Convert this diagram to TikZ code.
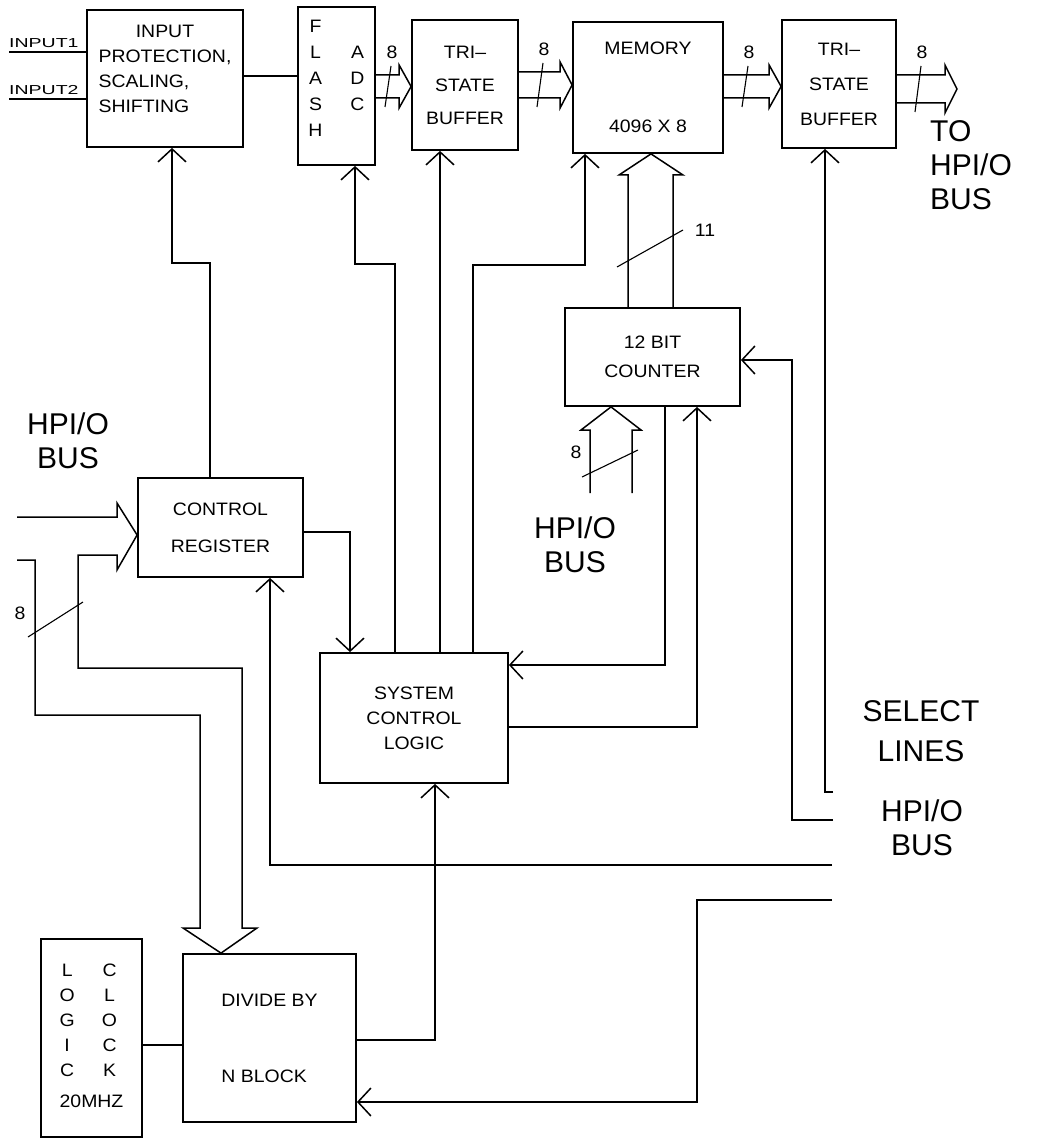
\documentclass[tikz,border=0pt]{standalone}
\usepackage{fontspec}
\setmainfont{Liberation Sans}
\newfontfamily\boxfont[FakeStretch=1.08]{Liberation Sans}
\newfontfamily\tagfont[FakeStretch=1.5]{Liberation Sans}
\usetikzlibrary{arrows.meta,calc}

\tikzset{
  blk/.style={draw,line width=1.8pt,inner sep=0pt,align=center,
    font=\boxfont\fontsize{18}{21}\selectfont},
  wire/.style={line width=1.5pt},
  sig/.style={wire,-{Straight Barb[length=13pt,width=28pt]}},
  cutmark/.style={line width=1.1pt},
  wlab/.style={font=\boxfont\fontsize{18}{21}\selectfont,inner sep=0pt},
  big/.style={font=\fontsize{30}{34}\selectfont,align=center,inner sep=0pt},
  tag/.style={font=\tagfont\fontsize{13}{15}\selectfont,inner sep=0pt}
}

\begin{document}
\begin{tikzpicture}[x=1pt,y=-1pt]
  \useasboundingbox (0,0) rectangle (1036,1139);

  % blocks
  \node[blk,minimum width=156pt,minimum height=137pt] (inp) at (165,78.5)
    {\begin{tabular}{@{}l@{}}\multicolumn{1}{@{}c@{}}{INPUT}\\[4pt]
     PROTECTION,\\[4pt] SCALING,\\[4pt] SHIFTING\\[16pt]\end{tabular}};
  \node[blk,minimum width=77pt,minimum height=158pt] (flash) at (336.5,86)
    {\begin{tabular}{@{}c@{\hspace{28pt}}c@{}}F & \\[5pt] L & A\\[5pt] A & D\\[5pt]
     S & C\\[5pt] H & \\[11pt]\end{tabular}};
  \node[blk,minimum width=106pt,minimum height=130pt] (buf1) at (465,85)
    {TRI–\\[12pt]STATE\\[12pt]BUFFER};
  \node[blk,minimum width=150pt,minimum height=131pt] (mem) at (648,87.5)
    {MEMORY\\[57pt]4096 X 8};
  \node[blk,minimum width=114pt,minimum height=128pt] (buf2) at (839,84)
    {TRI–\\[14pt]STATE\\[14pt]BUFFER};
  \node[blk,minimum width=175pt,minimum height=98pt] (cnt) at (652.5,357)
    {12 BIT\\[8pt]COUNTER};
  \node[blk,minimum width=165pt,minimum height=99pt] (ctrl) at (220.5,527.5)
    {CONTROL\\[16pt]REGISTER};
  \node[blk,minimum width=188pt,minimum height=130pt] (sys) at (414,718)
    {SYSTEM\\[4pt]CONTROL\\[4pt]LOGIC};
  \node[blk,align=left,minimum width=173pt,minimum height=168pt] (div) at (269.5,1038)
    {DIVIDE BY\\[55pt]N BLOCK};
  \node[blk,minimum width=101pt,minimum height=198pt] (clk) at (91.5,1038)
    {\begin{tabular}{@{}c@{\hspace{21pt}}c@{}}L & C\\[4pt] O & L\\[4pt] G & O\\[4pt]
     I & C\\[4pt] C & K\\[10pt] \multicolumn{2}{@{}c@{}}{20MHZ}\end{tabular}};

  % labels
  \node[tag,anchor=south west] (in1) at (9,48) {INPUT1};
  \node[tag,anchor=south west] (in2) at (9,95) {INPUT2};
  \node[big] (hpiL) at (68,441) {HPI/O\\BUS};
  \node[big] (hpiM) at (575,545) {HPI/O\\BUS};
  \node[big,align=left,anchor=west] (hpiR) at (930,165) {TO\\HPI/O\\BUS};
  \node[big] (sel) at (921,731) {SELECT\\[6pt]LINES};
  \node[big] (hpiS) at (922,828) {HPI/O\\BUS};

  % free ends
  \coordinate (out) at (957,0);
  \coordinate (hpA) at (17,517);
  \coordinate (hpB) at (17,560);
  \coordinate (cin) at (611,493);
  \coordinate (selA) at (833,792);
  \coordinate (selB) at (833,820);
  \coordinate (busE) at (832,865);
  \coordinate (busF) at (832,900);

  % data buses along the top
  \foreach \a/\b/\t/\u/\m/\s [count=\k] in {flash.east/buf1.west/75/98/86.5/388,
    buf1.east/mem.west/72/98/85/540, mem.east/buf2.west/75/98/86.5/745,
    buf2.east/out/75/103/89/918}
  {
    \draw[wire] (\a |- 0,\t) -- ($(\b |- 0,\t)+(-12,0)$) -- ++(0,-10) -- (\b |- 0,\m)
      -- ($(\b |- 0,\u)+(-12,10)$) -- ++(0,-10) -- (\a |- 0,\u);
    \draw[cutmark] (\s-3,\u+9) -- (\s+3,\t-9);
    \node[wlab] (w\k) at (\s+4,\t-23) {8};
  }

  % address bus counter -> memory
  \draw[wire] (cnt.north -| 628,0) -- (628,175) -- (619,175) -- (mem.south -| 651,0)
    -- (683,175) -- (673,175) -- (cnt.north -| 673,0);
  \draw[cutmark] (617,267) -- (683,230);
  \node[wlab] (w11) at (705,230) {11};

  % preset bus into counter
  \draw[wire] (cin -| 590,0) -- (590,430) -- (581,430) -- (cnt.south -| 611,0)
    -- (641,430) -- (632,430) -- (cin -| 632,0);
  \draw[cutmark] (582,477) -- (638,450);
  \node[wlab] (w12) at (576,452) {8};

  % bus into control register and divider
  \draw[wire] (hpA) -- (117,517) -- (117,503) -- (ctrl.west |- 0,535) -- (117,570)
    -- (117,555) -- (78,555) -- (78,668) -- (242,668) -- (242,928) -- (257,928)
    -- (div.north -| 221,0) -- (183,928) -- (200,928) -- (200,715) -- (35,715)
    -- (35,560) -- (hpB);
  \draw[cutmark] (28,637) -- (83,602);
  \node[wlab] (w5) at (20,613) {8};

  % single lines
  \draw[wire] (in1.south west |- 0,52) -- (inp.west |- 0,52);
  \draw[wire] (in2.south west |- 0,99) -- (inp.west |- 0,99);
  \draw[wire] (inp.east |- 0,76) -- (flash.west |- 0,76);
  \draw[wire] (clk.east |- 0,1045) -- (div.west |- 0,1045);
  \draw[sig] (ctrl.north -| 210,0) -- (210,263) -- (172,263) -- (inp.south -| 172,0);
  \draw[sig] (sys.north -| 395,0) -- (395,264) -- (355,264) -- (flash.south -| 355,0);
  \draw[sig] (sys.north -| 440,0) -- (buf1.south -| 440,0);
  \draw[sig] (sys.north -| 473,0) -- (473,265) -- (585,265) -- (mem.south -| 585,0);
  \draw[sig] (ctrl.east |- 0,532) -- (350,532) -- (sys.north -| 350,0);
  \draw[sig] (cnt.south -| 665,0) -- (665,665) -- (sys.east |- 0,665);
  \draw[sig] (sys.east |- 0,727) -- (697,727) -- (cnt.south -| 697,0);
  \draw[sig] (selB) -- (792,820) -- (792,360) -- (cnt.east |- 0,360);
  \draw[sig] (selA) -- (825,792) -- (buf2.south -| 825,0);
  \draw[sig] (busE) -- (270,865) -- (ctrl.south -| 270,0);
  \draw[sig] (div.east |- 0,1040) -- (435,1040) -- (sys.south -| 435,0);
  \draw[sig] (busF) -- (697,900) -- (697,1102) -- (div.east |- 0,1102);
\end{tikzpicture}
\end{document}
